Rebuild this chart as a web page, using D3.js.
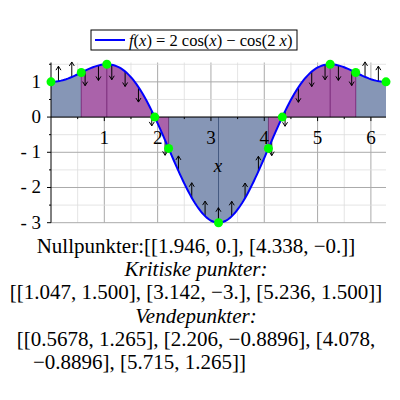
<!DOCTYPE html><html><head><meta charset="utf-8">
<script src="https://cdn.jsdelivr.net/npm/d3@7"></script>
<style>body{margin:0;background:#fff}</style></head><body>
<svg id="c" width="400" height="400"></svg>
<script>
const zeros=[1.946,4.338];
const crit=[[1.047,1.5],[3.142,-3],[5.236,1.5]];
const infl=[[0.5678,1.265],[2.206,-0.8896],[4.078,-0.8896],[5.715,1.265]];
const ends=[[0,1],[6.283,1]];
const concaveUp=[[0,0.5678],[2.206,4.078],[5.715,6.283]];
const concaveDown=[[0.5678,2.206],[4.078,5.715]];
const arrowX=[0.14,0.39,0.64,0.89,1.14,1.39,1.64,1.89,2.14,2.39,2.64,2.89,3.14,3.39,3.64,3.89,4.14,4.39,4.64,4.89,5.14,5.39,5.64,5.89,6.14];
const xTicks=[1,2,3,4,5,6];
const yTicks=[1,0,-1,-2,-3];
const textLines=[
 {t:"Nullpunkter:[[1.946, 0.], [4.338, −0.]]",i:false},
 {t:"Kritiske punkter:",i:true},
 {t:"[[1.047, 1.500], [3.142, −3.], [5.236, 1.500]]",i:false},
 {t:"Vendepunkter:",i:true},
 {t:"[[0.5678, 1.265], [2.206, −0.8896], [4.078,",i:false},
 {t:"−0.8896], [5.715, 1.265]]",i:false,left:33}
];
const FF='"Liberation Serif"';
const f=x=>2*Math.cos(x)-Math.cos(2*x);
const fpp=x=>-2*Math.cos(x)+4*Math.cos(2*x);
const svg=d3.select("#c");
const x=d3.scaleLinear([0,2*Math.PI],[51,386]);
const y=d3.scaleLinear([-3,1.55],[222.7,62.5]);
const g=svg.append("g");
const T=(sel)=>sel.append("text").style("font-family",FF);
d3.range(0.5,6.3,0.5).forEach(v=>g.append("line").attr("x1",x(v)).attr("x2",x(v)).attr("y1",y(1.55)).attr("y2",y(-3)).attr("stroke",Number.isInteger(v)?"#aaa":"#ddd").attr("stroke-width",Number.isInteger(v)?1:0.8));
d3.range(-3,1.6,0.5).forEach(v=>g.append("line").attr("x1",x(0)).attr("x2",x(2*Math.PI)).attr("y1",y(v)).attr("y2",y(v)).attr("stroke",Number.isInteger(v)?"#aaa":"#ddd").attr("stroke-width",Number.isInteger(v)?1:0.8));
function seg(a,b){return d3.range(0,201).map(i=>a+(b-a)*i/200);}
const area=d3.area().x(d=>x(d)).y0(y(0)).y1(d=>y(f(d)));
concaveUp.forEach(([a,b])=>g.append("path").attr("d",area(seg(a,b))).attr("fill","#8696b6"));
concaveDown.forEach(([a,b])=>g.append("path").attr("d",area(seg(a,b))).attr("fill","#aa62aa"));
infl.forEach(([a,b])=>g.append("line").attr("x1",x(a)).attr("x2",x(a)).attr("y1",y(0)).attr("y2",y(b)).attr("stroke",b>0?"#7a2a7a":"#6a3a7a").attr("stroke-width",1));
crit.forEach(([a,b])=>g.append("line").attr("x1",x(a)).attr("x2",x(a)).attr("y1",y(0)).attr("y2",y(b)).attr("stroke",b>0?"#7a2a7a":"#455a80").attr("stroke-width",1));
g.append("line").attr("x1",x(0)).attr("x2",x(2*Math.PI)).attr("y1",y(0)).attr("y2",y(0)).attr("stroke","#000");
g.append("line").attr("x1",x(0)).attr("x2",x(0)).attr("y1",y(1.55)).attr("y2",y(-3)).attr("stroke","#000");
xTicks.forEach(v=>{g.append("line").attr("x1",x(v)).attr("x2",x(v)).attr("y1",y(0)).attr("y2",y(0)+4).attr("stroke","#000");
 T(g).attr("x",x(v)).attr("y",y(0)+27).attr("text-anchor","middle").attr("font-size",19).text(v);});
d3.range(0.5,6.3,0.5).filter(v=>!Number.isInteger(v)).forEach(v=>g.append("line").attr("x1",x(v)).attr("x2",x(v)).attr("y1",y(0)).attr("y2",y(0)+2).attr("stroke","#000"));
yTicks.forEach(v=>{g.append("line").attr("x1",x(0)-4).attr("x2",x(0)).attr("y1",y(v)).attr("y2",y(v)).attr("stroke","#000");
 T(g).attr("x",x(0)-10).attr("y",y(v)+6).attr("text-anchor","end").attr("font-size",19).text(v<0?"- "+(-v):v);});
d3.range(-2.5,1.6,1).forEach(v=>g.append("line").attr("x1",x(0)-2).attr("x2",x(0)).attr("y1",y(v)).attr("y2",y(v)).attr("stroke","#000"));
T(g).attr("x",x(3)+7).attr("y",y(-1.4)+6).attr("text-anchor","middle").attr("font-style","italic").attr("font-size",19).text("x");
arrowX.forEach(v=>{const up=fpp(v)>0;const y0=y(f(v));const s=up?-1:1;const y1=y0+s*15;const xv=x(v);
 g.append("line").attr("x1",xv).attr("x2",xv).attr("y1",y0).attr("y2",y1).attr("stroke","#000").attr("stroke-width",1);
 g.append("path").attr("d",`M${xv-2.5},${y1-s*4}L${xv},${y1}L${xv+2.5},${y1-s*4}`).attr("fill","none").attr("stroke","#000").attr("stroke-width",1);});
g.append("path").attr("d",d3.line().x(d=>x(d)).y(d=>y(f(d)))(seg(0,2*Math.PI))).attr("fill","none").attr("stroke","#0000ff").attr("stroke-width",2);
[...ends,...crit,...infl,...zeros.map(z=>[z,0])].forEach(([a,b])=>g.append("circle").attr("cx",x(a)).attr("cy",y(b)).attr("r",4.5).attr("fill","#00ff00"));
g.append("rect").attr("x",91).attr("y",30).attr("width",206).attr("height",20).attr("fill","#fff").attr("stroke","#000");
g.append("line").attr("x1",95).attr("x2",125).attr("y1",40).attr("y2",40).attr("stroke","#0000ff").attr("stroke-width",2);
const lt=T(g).attr("x",129).attr("y",46).attr("font-size",16.5);
lt.append("tspan").attr("font-style","italic").text("f");lt.append("tspan").text("(");lt.append("tspan").attr("font-style","italic").text("x");
lt.append("tspan").text(") = 2 cos(");lt.append("tspan").attr("font-style","italic").text("x");lt.append("tspan").text(") − cos(2 ");
lt.append("tspan").attr("font-style","italic").text("x");lt.append("tspan").text(")");
textLines.forEach((d,i)=>T(svg).attr("x",d.left!=null?d.left:196).attr("y",253+i*23.2).attr("text-anchor",d.left!=null?"start":"middle")
 .attr("font-size",21).attr("font-style",d.i?"italic":"normal").text(d.t));
</script></body></html>
